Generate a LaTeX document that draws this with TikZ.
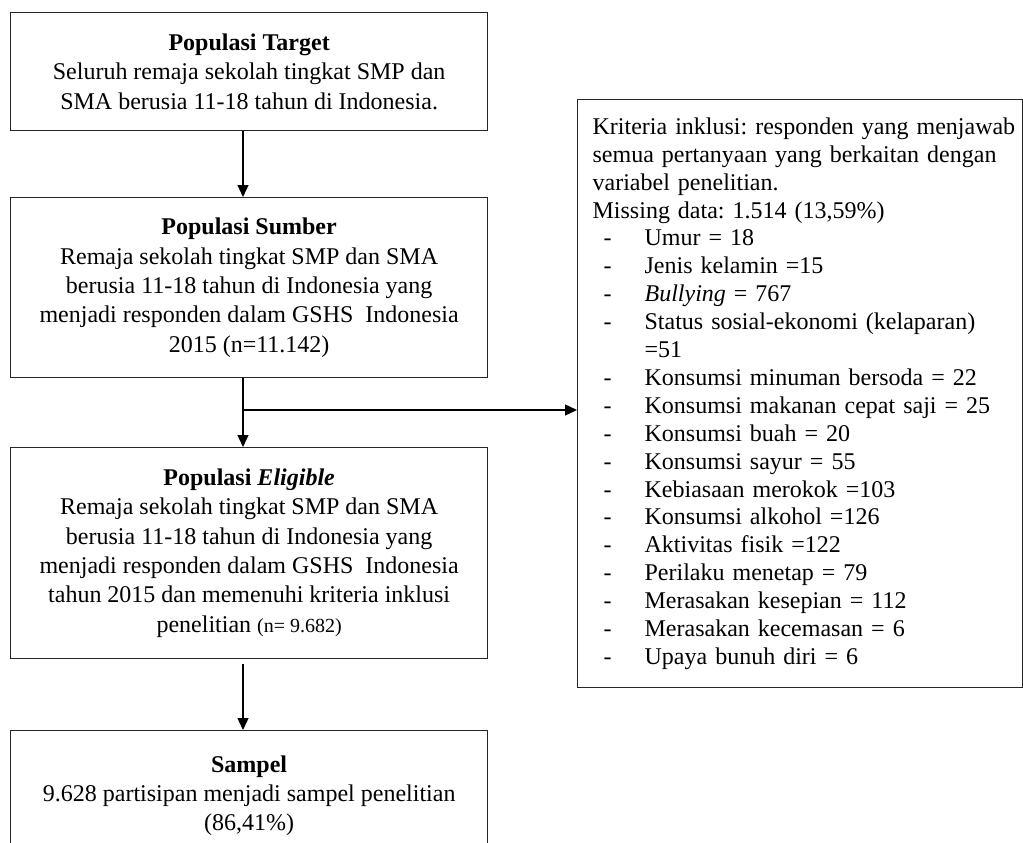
\documentclass[tikz,border=0pt]{standalone}
\usepackage{fontspec}
\setmainfont{Liberation Serif}
\usetikzlibrary{arrows.meta}
\frenchspacing
\newcommand\dashitem[1]{\makebox[52pt][l]{\hspace{11pt}-}#1}
\begin{document}
\begin{tikzpicture}[x=1pt,y=-1pt,
  box/.style={draw=black!85, line width=1.3pt, anchor=north west, minimum width=477pt,
    align=center, inner sep=0pt, font=\frenchspacing\fontsize{24}{29.3}\selectfont},
  rbox/.style={draw=black!85, line width=1.3pt, anchor=north west, text width=415pt,
    inner xsep=15pt, inner ysep=0pt, minimum height=588pt, align=left,
    font=\frenchspacing\fontsize{24}{27.9}\selectfont},
  arr/.style={line width=1.3pt, -{Triangle[length=12pt,width=11pt]}}]
\clip (0,0) rectangle (1023,843);
\fill[white] (0,0) rectangle (1023,843);
\coordinate (cx) at (243,0);

\node[box, minimum height=118pt] (b1) at (10,12) {%
\textbf{Populasi Target}\\
Seluruh remaja sekolah tingkat SMP dan\\
SMA berusia 11-18 tahun di Indonesia.};

\node[box, minimum height=180pt] (b2) at (10,197) {%
\textbf{Populasi Sumber}\\
Remaja sekolah tingkat SMP dan SMA\\
berusia 11-18 tahun di Indonesia yang\\
menjadi responden dalam GSHS~ Indonesia\\
2015 (n=11.142)};

\node[box, minimum height=211pt] (b3) at (10,447) {%
\textbf{Populasi \textit{Eligible}}\\
Remaja sekolah tingkat SMP dan SMA\\
berusia 11-18 tahun di Indonesia yang\\
menjadi responden dalam GSHS~ Indonesia\\
tahun 2015 dan memenuhi kriteria inklusi\\
penelitian {\fontsize{20}{29}\selectfont (n= 9.682)}};

\node[box, minimum height=130pt] (b4) at (10,730) {%
\textbf{Sampel}\\
9.628 partisipan menjadi sampel penelitian\\
(86,41\%)};

\node[rbox] (rb) at (577,99) {%
\makebox[415pt][s]{Kriteria inklusi: responden yang menjawab}\\
\makebox[415pt][s]{semua pertanyaan yang berkaitan dengan}\\
variabel penelitian.\\
Missing data: 1.514 (13,59\%)\\
\dashitem{Umur = 18}\\
\dashitem{Jenis kelamin =15}\\
\dashitem{\textit{Bullying} = 767}\\
\dashitem{Status sosial-ekonomi (kelaparan)}\\
\hspace*{52pt}=51\\
\dashitem{Konsumsi minuman bersoda = 22}\\
\dashitem{Konsumsi makanan cepat saji = 25}\\
\dashitem{Konsumsi buah = 20}\\
\dashitem{Konsumsi sayur = 55}\\
\dashitem{Kebiasaan merokok =103}\\
\dashitem{Konsumsi alkohol =126}\\
\dashitem{Aktivitas fisik =122}\\
\dashitem{Perilaku menetap = 79}\\
\dashitem{Merasakan kesepian = 112}\\
\dashitem{Merasakan kecemasan = 6}\\
\dashitem{Upaya bunuh diri = 6}};

\coordinate (jn) at (243,410);
\draw[arr] (b1.south -| cx) -- (b2.north -| cx);
\draw[arr] (b2.south -| cx) -- (jn) -- (b3.north -| cx);
\draw[arr] (jn) -- (jn -| rb.west);
\draw[arr, shorten <=5pt] (b3.south -| cx) -- (b4.north -| cx);
\end{tikzpicture}
\end{document}
